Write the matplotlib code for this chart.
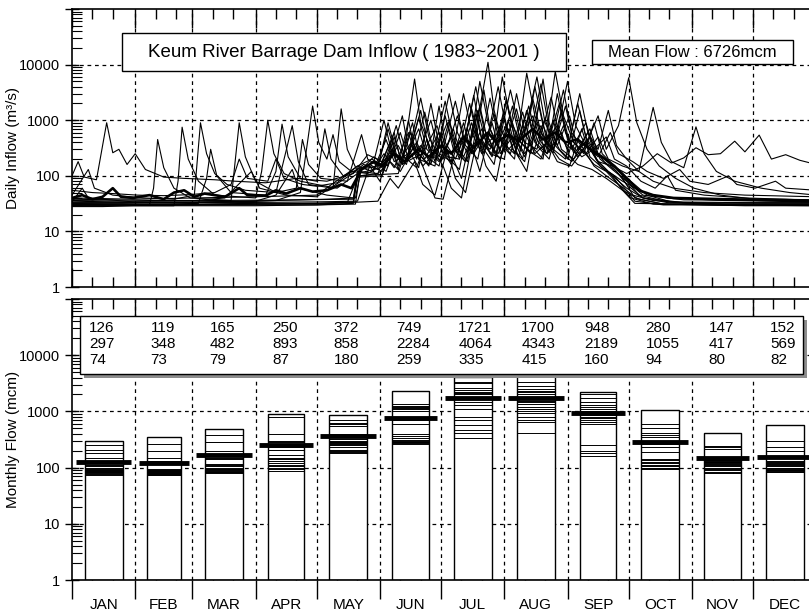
import numpy as np
import matplotlib
matplotlib.use("Agg")
import matplotlib.pyplot as plt
import matplotlib.lines as mlines
from matplotlib.patches import Rectangle
from matplotlib.ticker import FixedLocator, LogLocator, NullFormatter

NARROW = ["Liberation Sans Narrow", "Liberation Sans", "DejaVu Sans"]
REGULAR = ["Liberation Sans", "DejaVu Sans"]

month_names = ["JAN", "FEB", "MAR", "APR", "MAY", "JUN",
               "JUL", "AUG", "SEP", "OCT", "NOV", "DEC"]
month_days = [31, 28, 31, 30, 31, 30, 31, 31, 30, 31, 30, 31]

# daily inflow (m3/s) as (day of year, value)
y1983 = [(0, 100), (3, 180), (6, 95), (12, 85), (17, 900), (20, 260), (23, 300), (27, 160), (31, 250),
         (36, 130), (45, 95), (55, 90), (70, 85), (80, 80), (95, 75), (110, 90), (125, 80), (138, 110),
         (145, 240), (152, 180), (158, 600), (161, 200), (166, 380), (172, 150), (178, 260), (184, 900),
         (188, 300), (193, 180), (199, 1500), (203, 400), (209, 250), (214, 700), (219, 220), (226, 2400),
         (230, 600), (236, 300), (241, 800), (246, 260), (252, 400), (258, 180), (265, 150), (272, 110),
         (280, 150), (287, 250), (294, 170), (300, 210), (306, 320), (312, 240), (318, 250), (325, 420),
         (330, 270), (337, 540), (343, 200), (350, 240), (357, 190), (365, 160)]
y1984 = [(0, 32), (10, 31), (20, 30), (38, 30), (40, 60), (42, 450), (45, 140), (50, 60), (58, 40),
         (78, 36), (82, 900), (85, 220), (90, 80), (100, 50), (108, 800), (111, 180), (116, 70), (128, 60),
         (132, 1600), (135, 300), (140, 120), (150, 110), (156, 400), (160, 150), (165, 1000), (168, 300),
         (175, 160), (181, 600), (185, 200), (190, 130), (197, 2800), (201, 450), (206, 220), (212, 1200),
         (216, 300), (222, 180), (230, 4500), (234, 700), (239, 300), (245, 180), (250, 300), (256, 160),
         (262, 120), (268, 70), (275, 45), (285, 36), (300, 33), (320, 31), (340, 30), (365, 30)]
y1985 = [(0, 28), (15, 28), (30, 29), (50, 29), (52, 80), (54, 750), (57, 200), (62, 80), (70, 45),
         (90, 40), (93, 120), (96, 1000), (99, 250), (104, 110), (112, 80), (120, 70), (130, 60),
         (140, 110), (148, 220), (155, 150), (162, 1200), (165, 300), (170, 140), (176, 2000), (180, 350),
         (186, 160), (192, 900), (196, 250), (204, 11000), (207, 1500), (211, 400), (217, 250), (224, 1800),
         (228, 450), (233, 250), (240, 600), (244, 220), (248, 160), (255, 130), (262, 90), (270, 55),
         (278, 38), (290, 31), (310, 30), (330, 29), (350, 29), (365, 29)]
y1986 = [(0, 45), (8, 130), (11, 60), (20, 45), (35, 40), (50, 38), (60, 45), (63, 900), (66, 250),
         (70, 110), (76, 70), (85, 55), (100, 50), (110, 60), (113, 450), (116, 160), (122, 90), (135, 80),
         (142, 550), (145, 200), (150, 150), (157, 250), (163, 180), (170, 700), (174, 220), (180, 150),
         (188, 2200), (192, 500), (197, 250), (203, 600), (208, 220), (215, 3500), (219, 800), (223, 300),
         (230, 200), (236, 1000), (240, 300), (246, 200), (253, 600), (257, 200), (263, 120), (270, 80),
         (280, 50), (292, 40), (306, 38), (320, 36), (340, 35), (365, 34)]
y1987 = [(0, 30), (25, 30), (45, 31), (62, 32), (66, 90), (68, 300), (71, 100), (78, 50), (95, 45),
         (100, 120), (103, 850), (106, 220), (112, 90), (120, 80), (124, 700), (127, 200), (133, 100),
         (140, 130), (146, 160), (152, 120), (159, 800), (163, 220), (169, 140), (174, 450), (178, 180),
         (185, 3000), (189, 600), (194, 250), (200, 1800), (204, 400), (210, 200), (216, 900), (220, 280),
         (228, 6000), (232, 900), (237, 350), (243, 200), (249, 1500), (253, 350), (259, 150), (265, 100),
         (272, 60), (280, 40), (292, 33), (310, 31), (330, 31), (350, 30), (365, 30)]
y1988 = [(0, 35), (20, 34), (40, 33), (60, 33), (80, 34), (100, 36), (112, 50), (115, 300), (118, 1800),
         (121, 400), (125, 200), (128, 550), (131, 180), (137, 120), (145, 110), (150, 140), (155, 900),
         (159, 250), (164, 160), (171, 1500), (175, 300), (181, 180), (187, 700), (191, 220), (198, 4000),
         (202, 700), (207, 300), (213, 2200), (217, 500), (222, 250), (230, 800), (234, 260), (241, 3500),
         (245, 600), (251, 300), (258, 1200), (262, 300), (268, 800), (273, 5800), (277, 900), (282, 300),
         (288, 150), (296, 90), (305, 60), (318, 45), (335, 38), (350, 35), (365, 34)]
y1989 = [(0, 38), (20, 37), (40, 36), (60, 36), (75, 40), (88, 120), (92, 60), (105, 45), (120, 42),
         (136, 100), (143, 160), (150, 130), (157, 300), (162, 160), (168, 5500), (171, 900), (176, 300),
         (182, 200), (189, 1200), (193, 350), (199, 200), (205, 2500), (209, 500), (215, 250), (221, 1400),
         (225, 350), (231, 200), (237, 7500), (241, 1200), (246, 400), (252, 250), (258, 500), (263, 200),
         (270, 150), (278, 120), (285, 1700), (289, 400), (294, 180), (300, 140), (306, 760), (310, 250),
         (316, 120), (325, 80), (338, 60), (352, 50), (365, 45)]
y1990 = [(0, 29), (30, 29), (60, 29), (90, 29), (120, 30), (138, 32), (140, 100), (150, 105), (160, 110),
         (166, 600), (170, 200), (178, 150), (183, 1200), (187, 300), (193, 180), (201, 700), (205, 250),
         (212, 200), (218, 3000), (222, 600), (227, 250), (233, 400), (238, 180), (244, 150), (250, 700),
         (254, 220), (260, 140), (266, 100), (271, 60), (276, 35), (290, 30), (320, 30), (365, 29)]
y1991 = [(0, 31), (30, 31), (60, 31), (90, 32), (120, 32), (138, 34), (140, 110), (148, 130), (154, 450),
         (158, 180), (165, 250), (170, 1100), (174, 300), (180, 180), (186, 500), (190, 200), (196, 1600),
         (200, 400), (206, 250), (211, 6000), (215, 1000), (220, 400), (226, 250), (232, 1100), (236, 300),
         (242, 200), (248, 2000), (252, 500), (257, 250), (263, 180), (268, 130), (274, 80), (282, 45),
         (295, 33), (320, 31), (365, 31)]
y1992 = [(0, 55), (10, 50), (20, 48), (32, 45), (45, 44), (58, 46), (70, 50), (78, 70), (82, 200),
         (86, 90), (96, 80), (100, 200), (104, 90), (113, 70), (120, 65), (130, 75), (140, 150), (147, 200),
         (153, 150), (160, 350), (164, 180), (172, 250), (179, 800), (183, 250), (190, 300), (195, 2000),
         (199, 450), (205, 300), (210, 800), (214, 300), (220, 500), (226, 1200), (230, 400), (236, 260),
         (243, 5000), (247, 800), (252, 350), (258, 220), (264, 600), (268, 250), (275, 180), (282, 120),
         (290, 90), (298, 130), (303, 80), (312, 70), (322, 100), (326, 70), (335, 60), (345, 80),
         (350, 60), (365, 55)]
y1993 = [(0, 30), (40, 30), (80, 31), (120, 31), (150, 35), (156, 90), (160, 60), (168, 180), (172, 70),
         (178, 45), (184, 300), (188, 90), (193, 50), (199, 500), (203, 150), (208, 80), (214, 1000),
         (218, 250), (223, 120), (229, 2000), (233, 400), (239, 200), (245, 150), (251, 300), (256, 150),
         (262, 100), (268, 70), (274, 40), (285, 31), (320, 30), (365, 30)]
y1994 = [(0, 34), (5, 60), (8, 40), (30, 34), (60, 34), (90, 35), (100, 45), (108, 130), (111, 60),
         (125, 45), (138, 40), (140, 120), (148, 180), (153, 1000), (157, 250), (163, 180), (169, 400),
         (173, 200), (180, 600), (184, 220), (190, 200), (196, 900), (200, 300), (207, 500), (211, 250),
         (218, 1600), (222, 400), (228, 300), (235, 2600), (239, 500), (245, 300), (252, 900), (256, 300),
         (262, 500), (266, 200), (272, 150), (279, 80), (286, 60), (292, 100), (296, 55), (310, 45),
         (330, 40), (350, 38), (365, 36)]
y1995 = [(0, 30), (50, 30), (100, 31), (135, 33), (140, 95), (152, 100), (157, 300), (160, 130),
         (167, 900), (170, 250), (175, 150), (180, 1800), (183, 400), (188, 200), (194, 700), (197, 250),
         (202, 3500), (205, 700), (210, 300), (216, 1800), (220, 400), (225, 250), (231, 5500), (234, 900),
         (238, 350), (244, 1200), (248, 300), (254, 700), (258, 250), (264, 160), (270, 90), (276, 40),
         (290, 31), (330, 30), (365, 30)]
y1996 = [(0, 33), (40, 33), (80, 33), (120, 34), (140, 35), (146, 150), (151, 80), (158, 500), (162, 160),
         (168, 250), (173, 1400), (177, 300), (182, 150), (186, 60), (191, 40), (196, 350), (200, 120),
         (206, 900), (210, 250), (216, 500), (221, 200), (227, 4000), (231, 800), (236, 300), (242, 1800),
         (246, 400), (251, 250), (256, 900), (260, 250), (266, 150), (271, 90), (278, 45), (292, 34),
         (330, 33), (365, 33)]
y1997 = [(0, 36), (30, 35), (70, 36), (110, 37), (138, 38), (141, 130), (150, 150), (155, 700), (159, 220),
         (164, 180), (171, 2500), (175, 500), (180, 220), (185, 1000), (189, 300), (194, 180), (200, 5000),
         (204, 900), (208, 350), (213, 800), (217, 250), (223, 1500), (227, 400), (233, 250), (238, 3000),
         (242, 600), (247, 250), (254, 500), (259, 200), (265, 130), (272, 80), (280, 45), (300, 37),
         (340, 36), (365, 36)]
y1998 = [(0, 40), (30, 38), (60, 40), (90, 42), (120, 45), (140, 150), (147, 120), (153, 250), (158, 140),
         (165, 600), (169, 200), (176, 1000), (180, 250), (186, 180), (192, 3000), (196, 600), (201, 250),
         (207, 1300), (211, 350), (217, 200), (223, 7000), (227, 1200), (232, 400), (238, 800), (243, 300),
         (249, 3000), (253, 600), (258, 300), (263, 1500), (267, 350), (272, 200), (278, 120), (285, 80),
         (295, 60), (310, 50), (330, 45), (365, 42)]
y1999 = [(0, 30), (60, 30), (120, 30), (139, 31), (141, 100), (150, 110), (156, 180), (161, 120),
         (168, 350), (172, 150), (178, 40), (182, 38), (187, 200), (191, 90), (198, 1300), (202, 300),
         (207, 160), (213, 2500), (217, 500), (222, 220), (228, 900), (232, 260), (239, 2000), (243, 450),
         (248, 220), (253, 400), (258, 180), (264, 110), (270, 55), (276, 32), (320, 30), (365, 30)]
y2000 = [(0, 32), (25, 32), (50, 33), (75, 34), (100, 36), (125, 38), (139, 40), (142, 140), (149, 180),
         (154, 120), (161, 600), (165, 200), (171, 350), (176, 160), (183, 2200), (187, 450), (192, 220),
         (198, 700), (202, 250), (209, 4000), (213, 700), (218, 300), (224, 1200), (228, 350), (234, 200),
         (240, 1500), (244, 400), (250, 220), (256, 300), (261, 180), (267, 120), (272, 70), (280, 40),
         (300, 33), (340, 32), (365, 32)]
daily_mean = [(0, 40), (5, 45), (10, 38), (15, 42), (20, 60), (24, 42), (30, 40), (38, 45), (45, 38),
              (50, 50), (55, 55), (60, 42), (65, 48), (75, 42), (82, 60), (86, 45), (95, 44), (100, 55),
              (105, 48), (112, 60), (118, 52), (125, 55), (132, 70), (137, 60), (142, 130), (148, 180),
              (152, 150), (158, 250), (163, 180), (170, 300), (175, 220), (181, 350), (186, 250),
              (192, 500), (197, 320), (204, 600), (208, 400), (214, 550), (219, 420), (226, 700),
              (231, 450), (237, 600), (242, 400), (248, 450), (254, 300), (260, 220), (266, 150),
              (272, 90), (278, 55), (285, 45), (295, 40), (320, 38), (340, 37), (365, 36)]
daily_years = [y1983, y1984, y1985, y1986, y1987, y1988, y1989, y1990, y1991, y1992,
               y1993, y1994, y1995, y1996, y1997, y1998, y1999, y2000]

# monthly flow table (mcm): mean / max / min
mean_flow = [126, 119, 165, 250, 372, 749, 1721, 1700, 948, 280, 147, 152]
max_flow = [297, 348, 482, 893, 858, 2284, 4064, 4343, 2189, 1055, 417, 569]
min_flow = [74, 73, 79, 87, 180, 259, 335, 415, 160, 94, 80, 82]

# yearly monthly flows (mcm), 1983-2001
jan_flow = [74, 78, 80, 82, 84, 86, 88, 90, 92, 95, 98, 105, 110, 120, 150, 185, 210, 250, 297]
feb_flow = [73, 75, 77, 78, 80, 81, 82, 84, 85, 87, 88, 90, 92, 95, 130, 150, 200, 263, 348]
mar_flow = [79, 82, 85, 88, 90, 93, 96, 100, 105, 110, 115, 140, 150, 160, 200, 290, 290, 380, 482]
apr_flow = [87, 95, 100, 105, 110, 120, 130, 140, 150, 165, 205, 210, 230, 250, 280, 300, 400, 780, 893]
may_flow = [180, 190, 200, 210, 230, 250, 260, 270, 280, 290, 300, 320, 350, 400, 540, 600, 620, 700, 858]
jun_flow = [259, 270, 280, 290, 300, 310, 330, 360, 390, 600, 700, 800, 1000, 1100, 1150, 1200, 1250,
            1350, 2284]
jul_flow = [335, 410, 470, 580, 700, 800, 1100, 1300, 1500, 1700, 1800, 2000, 2100, 2200, 2440, 2600,
            3200, 3400, 4064]
aug_flow = [415, 650, 700, 800, 930, 1000, 1100, 1200, 1350, 1450, 1560, 1700, 2000, 2200, 2300, 2500,
            2800, 3300, 4343]
sep_flow = [160, 180, 195, 250, 600, 650, 700, 750, 800, 850, 900, 1000, 1100, 1200, 1300, 1500, 1700,
            2000, 2189]
oct_flow = [94, 98, 100, 105, 110, 120, 125, 135, 140, 190, 230, 260, 300, 350, 380, 420, 500, 600, 1055]
nov_flow = [80, 85, 90, 95, 100, 105, 110, 115, 120, 125, 125, 130, 135, 140, 150, 215, 230, 240, 417]
dec_flow = [82, 85, 88, 90, 92, 95, 98, 100, 105, 110, 115, 120, 125, 130, 155, 200, 230, 300, 569]
monthly_flow = [jan_flow, feb_flow, mar_flow, apr_flow, may_flow, jun_flow,
                jul_flow, aug_flow, sep_flow, oct_flow, nov_flow, dec_flow]

bounds = np.concatenate([[0], np.cumsum(month_days)])
centers = (bounds[:-1] + bounds[1:]) / 2
minor_days = np.sort(np.concatenate([bounds[:-1] + 10, bounds[:-1] + 20]))

fig = plt.figure(figsize=(8.09, 6.16), dpi=100)
ax1 = fig.add_axes([0.089, 0.534, 0.92, 0.4514])
ax2 = fig.add_axes([0.089, 0.0584, 0.92, 0.4562])

dash = (0, (3, 3))
for ax in (ax1, ax2):
    ax.set_yscale("log")
    ax.set_ylim(1, 1e5)
    ax.set_xlim(0, 365)
    ax.xaxis.set_major_locator(FixedLocator(bounds))
    ax.xaxis.set_minor_locator(FixedLocator(minor_days))
    ax.set_xticklabels([])
    ax.set_yticks([1, 10, 100, 1000, 10000, 100000])
    ax.set_yticklabels(["1", "10", "100", "1000", "10000", ""], family=NARROW, fontsize=10.5)
    ax.yaxis.set_minor_locator(LogLocator(base=10, subs=np.arange(2, 10)))
    ax.yaxis.set_minor_formatter(NullFormatter())
    ax.tick_params(axis="x", which="major", direction="in", length=14, width=1, top=True, bottom=True)
    ax.tick_params(axis="x", which="minor", direction="in", length=7, width=1, top=True, bottom=True)
    ax.tick_params(axis="y", which="major", direction="inout", length=10, width=1, right=False)
    ax.tick_params(axis="y", which="minor", direction="in", length=7, width=0.8, right=False)
    ax.set_axisbelow(True)
    for yv in [10, 100, 1000, 10000]:
        ax.axhline(yv, color="k", lw=0.9, ls=dash, zorder=0.5)
    for xv in bounds[1:-1]:
        ax.axvline(xv, color="k", lw=0.9, ls=dash, zorder=0.5)
    for s in ax.spines.values():
        s.set_linewidth(1.2)
    ax.yaxis.set_label_coords(-0.07, 0.5)

# top panel: daily lines
for yr in daily_years:
    d, v = zip(*yr)
    ax1.plot(d, v, color="k", lw=0.8, zorder=3)
d, v = zip(*daily_mean)
ax1.plot(d, v, color="k", lw=1.9, zorder=3)

ax1.add_patch(Rectangle((0.0672, 0.777), 0.597, 0.137, transform=ax1.transAxes,
                        fc="white", ec="k", lw=1, zorder=2.5))
ax1.text(0.3656, 0.845, "Keum River Barrage Dam Inflow ( 1983~2001 )", transform=ax1.transAxes,
         ha="center", va="center", fontsize=13.5, family=REGULAR, zorder=4)
ax1.add_patch(Rectangle((0.699, 0.802), 0.270, 0.086, transform=ax1.transAxes,
                        fc="white", ec="k", lw=1, zorder=4))
ax1.text(0.834, 0.845, "Mean Flow : 6726mcm", transform=ax1.transAxes,
         ha="center", va="center", fontsize=12, family=REGULAR, zorder=5)
ax1.set_ylabel("Daily Inflow (m³/s)", family=NARROW, fontsize=11)

# bottom panel: monthly boxes
for i, vals in enumerate(monthly_flow):
    w = 0.6 * month_days[i]
    x0 = centers[i] - w / 2
    ax2.add_patch(Rectangle((x0, 1), w, max(vals) - 1, fc="white", ec="k", lw=1, zorder=2))
    ax2.hlines(vals, x0, x0 + w, colors="k", lw=0.7, zorder=3)
    mw = 0.88 * month_days[i]
    ax2.hlines(mean_flow[i], centers[i] - mw / 2, centers[i] + mw / 2, colors="k", lw=3.5, zorder=4)

ax2.add_patch(Rectangle((0.016, 0.718), 0.9718, 0.2076, transform=ax2.transAxes,
                        fc="#8c8c8c", ec="none", zorder=5))
ax2.add_patch(Rectangle((0.0108, 0.733), 0.9718, 0.2076, transform=ax2.transAxes,
                        fc="white", ec="k", lw=1, zorder=6))
xt = ax2.get_xaxis_transform()
for i in range(12):
    tx = bounds[i] + 0.27 * month_days[i]
    for row, yy in zip([mean_flow, max_flow, min_flow], [0.897, 0.840, 0.783]):
        ax2.text(tx, yy, str(row[i]), transform=xt, ha="left", va="center",
                 fontsize=11, family=NARROW, zorder=7)
    ax2.text(centers[i], -0.09, month_names[i], transform=xt, ha="center", va="center",
             fontsize=11, family=REGULAR)
ax2.set_ylabel("Monthly Flow (mcm)", family=NARROW, fontsize=11)

# month ticks on the bottom edge point outward
ax2.tick_params(axis="x", which="major", length=14)
for t in ax2.xaxis.get_major_ticks():
    t.tick1line.set_marker(mlines.TICKDOWN)

fig.savefig("out.png", dpi=100)
